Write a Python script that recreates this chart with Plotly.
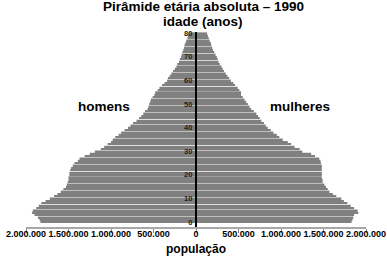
import plotly.graph_objects as go

# Age groups (years)
ages = list(range(0, 81))

# Population in thousands
homens = [1830, 1840, 1860, 1900, 1930, 1920, 1880, 1850, 1820, 1770,
          1720, 1670, 1630, 1590, 1560, 1530, 1520, 1510, 1500, 1500,
          1490, 1490, 1480, 1470, 1450, 1430, 1390, 1370, 1310, 1250,
          1190, 1120, 1080, 1040, 1000, 980, 950, 910, 880, 840,
          800, 770, 740, 700, 670, 645, 620, 600, 570, 560,
          550, 540, 530, 510, 490, 480, 450, 430, 400, 370,
          340, 330, 310, 290, 270, 250, 230, 220, 200, 190,
          175, 170, 160, 150, 140, 135, 125, 115, 100, 95, 88]

mulheres = [1830, 1840, 1850, 1860, 1910, 1900, 1860, 1820, 1780, 1740,
            1710, 1650, 1610, 1570, 1550, 1530, 1510, 1490, 1490, 1480,
            1480, 1480, 1480, 1480, 1480, 1470, 1465, 1450, 1400, 1355,
            1250, 1220, 1160, 1120, 1080, 1020, 980, 950, 910, 880,
            845, 820, 800, 770, 750, 730, 710, 680, 650, 630,
            610, 590, 570, 550, 530, 530, 510, 490, 460, 440,
            410, 390, 370, 350, 330, 315, 300, 280, 265, 255,
            245, 230, 215, 200, 190, 180, 175, 160, 150, 140, 130]

xtick_vals = [-2000000, -1500000, -1000000, -500000, 0, 500000, 1000000, 1500000, 2000000]
xtick_text = ["2.000.000", "1.500.000", "1.000.000", "500.000", "0",
              "500.000", "1.000.000", "1.500.000", "2.000.000"]
ytick_vals = [0, 10, 20, 30, 40, 50, 60, 70, 80]

FONT = "Liberation Sans, Arial, sans-serif"
BAR = "#808080"

fig = go.Figure()
fig.add_trace(go.Bar(
    y=ages, x=[-v * 1000 for v in homens], orientation="h",
    marker=dict(color=BAR, line=dict(width=0)), name="homens"))
fig.add_trace(go.Bar(
    y=ages, x=[v * 1000 for v in mulheres], orientation="h",
    marker=dict(color=BAR, line=dict(width=0)), name="mulheres"))

fig.update_layout(
    width=387, height=257,
    margin=dict(l=26, r=21, t=32, b=30, autoexpand=False),
    paper_bgcolor="white", plot_bgcolor="white",
    barmode="relative", bargap=0.3,
    showlegend=False,
    font=dict(family=FONT, color="black"),
    xaxis=dict(
        range=[-2000000, 2000000],
        tickvals=xtick_vals, ticktext=xtick_text,
        tickfont=dict(size=9, weight="bold", family=FONT),
        ticks="outside", ticklen=0, ticklabelstandoff=-3,
        minor=dict(tickmode="array", tickvals=xtick_vals, ticks="outside",
                   ticklen=4, tickcolor="#8a8a8a", tickwidth=1, showgrid=False),
        showline=True, linecolor="#a8a8a8", linewidth=1.5,
        showgrid=False, zeroline=False, automargin=False,
    ),
    yaxis=dict(
        range=[-2.1, 80.5],
        anchor="free", position=0.5, automargin=False,
        tickvals=ytick_vals,
        tickfont=dict(size=7.5, weight="bold", family=FONT, color="#222"),
        ticks="", ticklabelstandoff=1,
        showline=True, linecolor="black", linewidth=2.2,
        showgrid=False, zeroline=False,
    ),
    annotations=[
        dict(text="Pirâmide etária absoluta – 1990", xref="paper", yref="paper",
             x=0.522, y=1, yshift=25.5, xanchor="center", yanchor="middle",
             showarrow=False, font=dict(size=13.5, weight="bold", family=FONT)),
        dict(text="idade (anos)", xref="paper", yref="paper",
             x=0.52, y=1, yshift=10.5, xanchor="center", yanchor="middle",
             showarrow=False, font=dict(size=13.5, weight="bold", family=FONT)),
        dict(text="população", xref="paper", yref="paper",
             x=0.5, y=0, yshift=-22, xanchor="center", yanchor="middle",
             showarrow=False, font=dict(size=12, weight="bold", family=FONT)),
        dict(text="homens", xref="x", yref="y", x=-1080000, y=49,
             xanchor="center", yanchor="middle", showarrow=False,
             font=dict(size=13.5, weight="bold", family=FONT)),
        dict(text="mulheres", xref="x", yref="y", x=1220000, y=49,
             xanchor="center", yanchor="middle", showarrow=False,
             font=dict(size=13.5, weight="bold", family=FONT)),
    ],
)

fig.write_html("out.html")
